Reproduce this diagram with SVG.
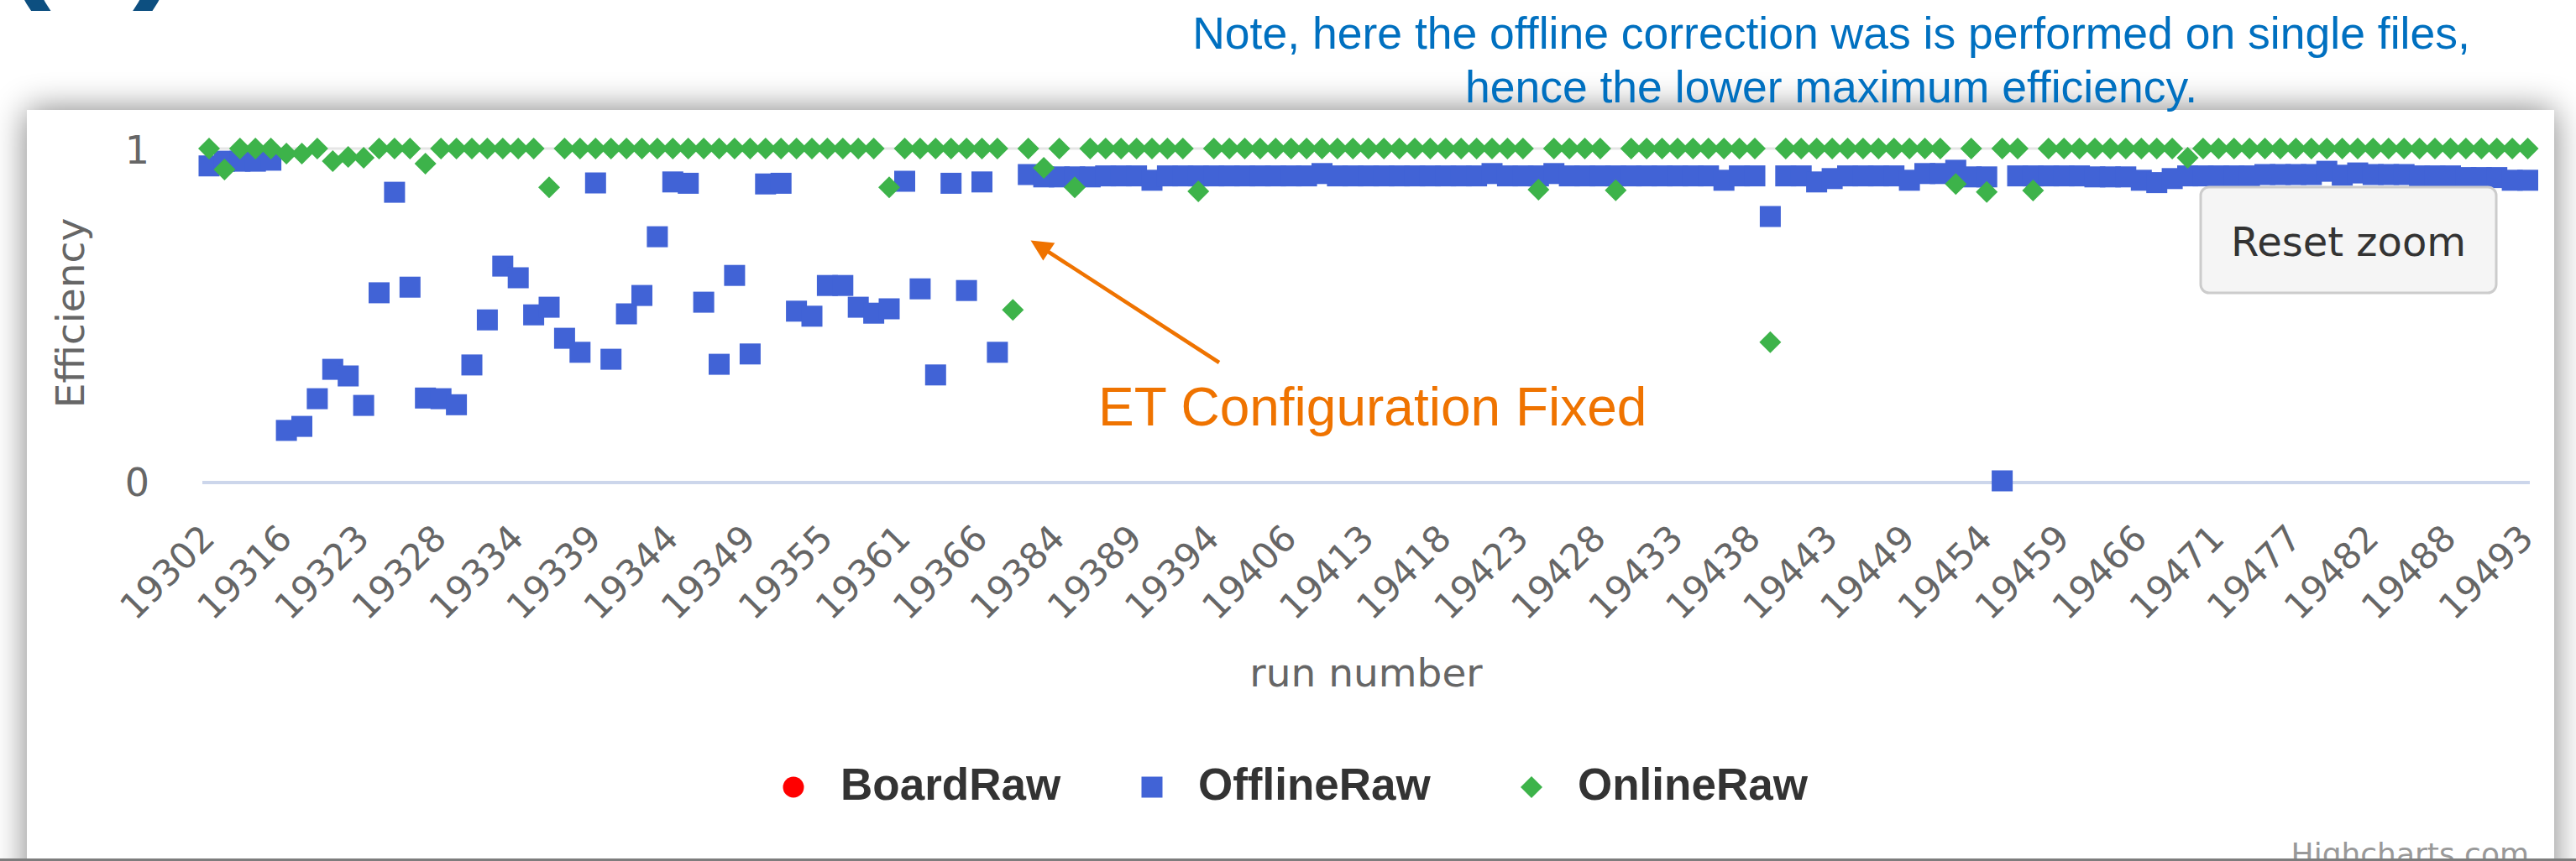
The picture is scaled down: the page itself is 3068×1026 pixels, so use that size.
<svg xmlns="http://www.w3.org/2000/svg" xmlns:xlink="http://www.w3.org/1999/xlink" width="3068" height="1026" viewBox="0 0 3068 1026">
  <defs>
    <style>
      .note{font-family:"Liberation Sans",Arial,sans-serif;font-size:53.5px;fill:#0070c0;text-anchor:middle}
      .paren{font-family:"Liberation Sans",Arial,sans-serif;font-weight:bold;font-size:170px;fill:#0d4f80}
      .tick{font-family:"DejaVu Sans",Verdana,sans-serif;font-size:43px;fill:#666666;text-anchor:end}
      .ylab{font-family:"DejaVu Sans",Verdana,sans-serif;font-size:46px;fill:#666666;text-anchor:end}
      .axtitle{font-family:"DejaVu Sans",Verdana,sans-serif;font-size:47px;fill:#666666;text-anchor:middle}
      .leg{font-family:"Liberation Sans",Arial,sans-serif;font-weight:bold;font-size:53px;fill:#333333}
      .btn{font-family:"DejaVu Sans",Verdana,sans-serif;font-size:48px;fill:#333333;text-anchor:middle}
      .credit{font-family:"DejaVu Sans",Verdana,sans-serif;font-size:36px;fill:#999999;text-anchor:end}
      .ann{font-family:"Liberation Sans",Arial,sans-serif;font-size:64px;fill:#ef7300}
      .off{fill:#4163d6}
      .on{fill:#3db34a}
    </style>
    <filter id="shadow" x="-10%" y="-20%" width="120%" height="140%">
      <feGaussianBlur stdDeviation="20"/>
    </filter>
    <clipPath id="panelClip">
      <rect x="32" y="131" width="3010" height="892"/>
    </clipPath>
    <rect id="sq" x="-12.5" y="-12.5" width="25" height="25"/>
    <path id="dm" d="M0,-13L13,0L0,13L-13,0Z"/>
  </defs>

  <!-- page background -->
  <rect x="0" y="0" width="3068" height="1026" fill="#ffffff"/>

  <!-- heading fragments -->
  <g id="heading">
    <text class="paren" x="4" y="-22">(</text>
    <text class="paren" x="158" y="-22">)</text>
  </g>

  <!-- chart panel with drop shadow -->
  <g id="panel">
    <rect x="32" y="131" width="3010" height="960" fill="#000000" opacity="0.5" filter="url(#shadow)"/>
    <rect x="32" y="131" width="3010" height="960" fill="#ffffff"/>
  </g>
  <rect x="0" y="1023" width="3068" height="3" fill="#7d7d7d"/>

  <!-- side note -->
  <g id="note">
    <text class="note" x="2181" y="58">Note, here the offline correction was is performed on single files,</text>
    <text class="note" x="2181" y="122">hence the lower maximum efficiency.</text>
  </g>

  <g id="chart" clip-path="url(#panelClip)">
    <!-- grid and axis -->
    <g id="axes">
      <line x1="241" y1="177" x2="3013" y2="177" stroke="#e6e6e6" stroke-width="3"/>
      <line x1="241" y1="575" x2="3013" y2="575" stroke="#ccd6eb" stroke-width="4"/>
      <text class="ylab" x="178" y="195">1</text>
      <text class="ylab" x="178" y="591">0</text>
      <text class="axtitle" transform="translate(100,373) rotate(-90)">Efficiency</text>
      <text class="axtitle" x="1627" y="818">run number</text>
    </g>

    <!-- category labels -->
    <g id="xlabels">
      <text class="tick" transform="translate(258.0,644) rotate(-45)">19302</text>
      <text class="tick" transform="translate(350.1,644) rotate(-45)">19316</text>
      <text class="tick" transform="translate(442.1,644) rotate(-45)">19323</text>
      <text class="tick" transform="translate(534.2,644) rotate(-45)">19328</text>
      <text class="tick" transform="translate(626.2,644) rotate(-45)">19334</text>
      <text class="tick" transform="translate(718.3,644) rotate(-45)">19339</text>
      <text class="tick" transform="translate(810.3,644) rotate(-45)">19344</text>
      <text class="tick" transform="translate(902.4,644) rotate(-45)">19349</text>
      <text class="tick" transform="translate(994.4,644) rotate(-45)">19355</text>
      <text class="tick" transform="translate(1086.5,644) rotate(-45)">19361</text>
      <text class="tick" transform="translate(1178.5,644) rotate(-45)">19366</text>
      <text class="tick" transform="translate(1270.6,644) rotate(-45)">19384</text>
      <text class="tick" transform="translate(1362.6,644) rotate(-45)">19389</text>
      <text class="tick" transform="translate(1454.7,644) rotate(-45)">19394</text>
      <text class="tick" transform="translate(1546.7,644) rotate(-45)">19406</text>
      <text class="tick" transform="translate(1638.8,644) rotate(-45)">19413</text>
      <text class="tick" transform="translate(1730.8,644) rotate(-45)">19418</text>
      <text class="tick" transform="translate(1822.9,644) rotate(-45)">19423</text>
      <text class="tick" transform="translate(1914.9,644) rotate(-45)">19428</text>
      <text class="tick" transform="translate(2007.0,644) rotate(-45)">19433</text>
      <text class="tick" transform="translate(2099.0,644) rotate(-45)">19438</text>
      <text class="tick" transform="translate(2191.1,644) rotate(-45)">19443</text>
      <text class="tick" transform="translate(2283.1,644) rotate(-45)">19449</text>
      <text class="tick" transform="translate(2375.2,644) rotate(-45)">19454</text>
      <text class="tick" transform="translate(2467.2,644) rotate(-45)">19459</text>
      <text class="tick" transform="translate(2559.3,644) rotate(-45)">19466</text>
      <text class="tick" transform="translate(2651.3,644) rotate(-45)">19471</text>
      <text class="tick" transform="translate(2743.4,644) rotate(-45)">19477</text>
      <text class="tick" transform="translate(2835.4,644) rotate(-45)">19482</text>
      <text class="tick" transform="translate(2927.5,644) rotate(-45)">19488</text>
      <text class="tick" transform="translate(3019.5,644) rotate(-45)">19493</text>
    </g>

    <!-- OfflineRaw series -->
    <g id="series-offline" class="off">
      <use href="#sq" x="249.0" y="197.7"/><use href="#sq" x="267.4" y="192.1"/><use href="#sq" x="285.8" y="192.1"/><use href="#sq" x="304.2" y="192.1"/><use href="#sq" x="322.6" y="190.9"/>
      <use href="#sq" x="341.1" y="512.9"/><use href="#sq" x="359.5" y="508.1"/><use href="#sq" x="377.9" y="475.1"/><use href="#sq" x="396.3" y="440.1"/><use href="#sq" x="414.7" y="448.0"/>
      <use href="#sq" x="433.1" y="483.1"/><use href="#sq" x="451.5" y="348.9"/><use href="#sq" x="469.9" y="229.1"/><use href="#sq" x="488.3" y="342.2"/><use href="#sq" x="506.7" y="474.3"/>
      <use href="#sq" x="525.2" y="475.1"/><use href="#sq" x="543.6" y="482.3"/><use href="#sq" x="562.0" y="434.9"/><use href="#sq" x="580.4" y="381.2"/><use href="#sq" x="598.8" y="317.1"/>
      <use href="#sq" x="617.2" y="331.0"/><use href="#sq" x="635.6" y="375.2"/><use href="#sq" x="654.0" y="366.1"/><use href="#sq" x="672.4" y="403.1"/><use href="#sq" x="690.8" y="419.8"/>
      <use href="#sq" x="709.3" y="218.0"/><use href="#sq" x="727.7" y="428.1"/><use href="#sq" x="746.1" y="374.0"/><use href="#sq" x="764.5" y="352.1"/><use href="#sq" x="782.9" y="282.1"/>
      <use href="#sq" x="801.3" y="216.8"/><use href="#sq" x="819.7" y="218.4"/><use href="#sq" x="838.1" y="360.1"/><use href="#sq" x="856.5" y="434.1"/><use href="#sq" x="874.9" y="328.2"/>
      <use href="#sq" x="893.4" y="421.8"/><use href="#sq" x="911.8" y="219.2"/><use href="#sq" x="930.2" y="218.4"/><use href="#sq" x="948.6" y="370.8"/><use href="#sq" x="967.0" y="376.8"/>
      <use href="#sq" x="985.4" y="340.2"/><use href="#sq" x="1003.8" y="340.2"/><use href="#sq" x="1022.2" y="366.1"/><use href="#sq" x="1040.6" y="373.2"/><use href="#sq" x="1059.0" y="368.0"/>
      <use href="#sq" x="1077.5" y="216.0"/><use href="#sq" x="1095.9" y="344.2"/><use href="#sq" x="1114.3" y="446.8"/><use href="#sq" x="1132.7" y="218.4"/><use href="#sq" x="1151.1" y="346.2"/>
      <use href="#sq" x="1169.5" y="216.8"/><use href="#sq" x="1187.9" y="419.8"/>
      <use href="#sq" x="1224.7" y="208.0"/><use href="#sq" x="1243.1" y="210.8"/><use href="#sq" x="1261.6" y="210.8"/><use href="#sq" x="1280.0" y="210.8"/><use href="#sq" x="1298.4" y="210.8"/>
      <use href="#sq" x="1316.8" y="209.6"/><use href="#sq" x="1335.2" y="209.6"/><use href="#sq" x="1353.6" y="209.6"/><use href="#sq" x="1372.0" y="214.8"/><use href="#sq" x="1390.4" y="209.6"/>
      <use href="#sq" x="1408.8" y="209.6"/><use href="#sq" x="1427.2" y="209.6"/><use href="#sq" x="1445.7" y="209.6"/><use href="#sq" x="1464.1" y="209.6"/><use href="#sq" x="1482.5" y="209.6"/>
      <use href="#sq" x="1500.9" y="209.6"/><use href="#sq" x="1519.3" y="209.6"/><use href="#sq" x="1537.7" y="209.6"/><use href="#sq" x="1556.1" y="209.6"/><use href="#sq" x="1574.5" y="206.8"/>
      <use href="#sq" x="1592.9" y="209.6"/><use href="#sq" x="1611.3" y="209.6"/><use href="#sq" x="1629.8" y="209.6"/><use href="#sq" x="1648.2" y="209.6"/><use href="#sq" x="1666.6" y="209.6"/>
      <use href="#sq" x="1685.0" y="209.6"/><use href="#sq" x="1703.4" y="209.6"/><use href="#sq" x="1721.8" y="209.6"/><use href="#sq" x="1740.2" y="209.6"/><use href="#sq" x="1758.6" y="209.6"/>
      <use href="#sq" x="1777.0" y="206.8"/><use href="#sq" x="1795.4" y="209.6"/><use href="#sq" x="1813.9" y="209.6"/><use href="#sq" x="1832.3" y="209.6"/><use href="#sq" x="1850.7" y="206.8"/>
      <use href="#sq" x="1869.1" y="209.6"/><use href="#sq" x="1887.5" y="209.6"/><use href="#sq" x="1905.9" y="209.6"/><use href="#sq" x="1924.3" y="209.6"/><use href="#sq" x="1942.7" y="209.6"/>
      <use href="#sq" x="1961.1" y="209.6"/><use href="#sq" x="1979.5" y="209.6"/><use href="#sq" x="1998.0" y="209.6"/><use href="#sq" x="2016.4" y="209.6"/><use href="#sq" x="2034.8" y="209.6"/>
      <use href="#sq" x="2053.2" y="214.8"/><use href="#sq" x="2071.6" y="209.6"/><use href="#sq" x="2090.0" y="209.6"/><use href="#sq" x="2108.4" y="258.0"/><use href="#sq" x="2126.8" y="209.6"/>
      <use href="#sq" x="2145.2" y="209.6"/><use href="#sq" x="2163.6" y="216.8"/><use href="#sq" x="2182.1" y="212.8"/><use href="#sq" x="2200.5" y="209.6"/><use href="#sq" x="2218.9" y="209.6"/>
      <use href="#sq" x="2237.3" y="209.6"/><use href="#sq" x="2255.7" y="209.6"/><use href="#sq" x="2274.1" y="214.8"/><use href="#sq" x="2292.5" y="206.8"/><use href="#sq" x="2310.9" y="206.8"/>
      <use href="#sq" x="2329.3" y="202.9"/><use href="#sq" x="2347.7" y="210.8"/><use href="#sq" x="2366.2" y="210.8"/><use href="#sq" x="2384.6" y="573.0"/><use href="#sq" x="2403.0" y="209.6"/>
      <use href="#sq" x="2421.4" y="209.6"/><use href="#sq" x="2439.8" y="209.6"/><use href="#sq" x="2458.2" y="209.6"/><use href="#sq" x="2476.6" y="209.6"/><use href="#sq" x="2495.0" y="210.8"/>
      <use href="#sq" x="2513.4" y="210.8"/><use href="#sq" x="2531.8" y="210.8"/><use href="#sq" x="2550.3" y="214.8"/><use href="#sq" x="2568.7" y="217.6"/><use href="#sq" x="2587.1" y="212.8"/>
      <use href="#sq" x="2605.5" y="209.6"/><use href="#sq" x="2623.9" y="209.6"/><use href="#sq" x="2642.3" y="209.6"/><use href="#sq" x="2660.7" y="209.6"/><use href="#sq" x="2679.1" y="209.6"/>
      <use href="#sq" x="2697.5" y="208.0"/><use href="#sq" x="2715.9" y="208.0"/><use href="#sq" x="2734.4" y="208.0"/><use href="#sq" x="2752.8" y="208.0"/><use href="#sq" x="2771.2" y="204.1"/>
      <use href="#sq" x="2789.6" y="208.8"/><use href="#sq" x="2808.0" y="206.1"/><use href="#sq" x="2826.4" y="208.0"/><use href="#sq" x="2844.8" y="208.0"/><use href="#sq" x="2863.2" y="208.0"/>
      <use href="#sq" x="2881.6" y="209.6"/><use href="#sq" x="2900.0" y="209.6"/><use href="#sq" x="2918.5" y="209.6"/><use href="#sq" x="2936.9" y="211.6"/><use href="#sq" x="2955.3" y="211.6"/>
      <use href="#sq" x="2973.7" y="211.6"/><use href="#sq" x="2992.1" y="214.8"/><use href="#sq" x="3010.5" y="214.8"/>
    </g>

    <!-- OnlineRaw series -->
    <g id="series-online" class="on">
      <use href="#dm" x="249.0" y="177"/><use href="#dm" x="267.4" y="202.1"/><use href="#dm" x="285.8" y="177"/><use href="#dm" x="304.2" y="177"/><use href="#dm" x="322.6" y="177"/>
      <use href="#dm" x="341.1" y="183"/><use href="#dm" x="359.5" y="183"/><use href="#dm" x="377.9" y="177"/><use href="#dm" x="396.3" y="192.1"/><use href="#dm" x="414.7" y="186.9"/>
      <use href="#dm" x="433.1" y="188.1"/><use href="#dm" x="451.5" y="177"/><use href="#dm" x="469.9" y="177"/><use href="#dm" x="488.3" y="177"/><use href="#dm" x="506.7" y="194.9"/>
      <use href="#dm" x="525.2" y="177"/><use href="#dm" x="543.6" y="177"/><use href="#dm" x="562.0" y="177"/><use href="#dm" x="580.4" y="177"/><use href="#dm" x="598.8" y="177"/>
      <use href="#dm" x="617.2" y="177"/><use href="#dm" x="635.6" y="177"/><use href="#dm" x="654.0" y="223.2"/><use href="#dm" x="672.4" y="177"/><use href="#dm" x="690.8" y="177"/>
      <use href="#dm" x="709.3" y="177"/><use href="#dm" x="727.7" y="177"/><use href="#dm" x="746.1" y="177"/><use href="#dm" x="764.5" y="177"/><use href="#dm" x="782.9" y="177"/>
      <use href="#dm" x="801.3" y="177"/><use href="#dm" x="819.7" y="177"/><use href="#dm" x="838.1" y="177"/><use href="#dm" x="856.5" y="177"/><use href="#dm" x="874.9" y="177"/>
      <use href="#dm" x="893.4" y="177"/><use href="#dm" x="911.8" y="177"/><use href="#dm" x="930.2" y="177"/><use href="#dm" x="948.6" y="177"/><use href="#dm" x="967.0" y="177"/>
      <use href="#dm" x="985.4" y="177"/><use href="#dm" x="1003.8" y="177"/><use href="#dm" x="1022.2" y="177"/><use href="#dm" x="1040.6" y="177"/><use href="#dm" x="1059.0" y="223.2"/>
      <use href="#dm" x="1077.5" y="177"/><use href="#dm" x="1095.9" y="177"/><use href="#dm" x="1114.3" y="177"/><use href="#dm" x="1132.7" y="177"/><use href="#dm" x="1151.1" y="177"/>
      <use href="#dm" x="1169.5" y="177"/><use href="#dm" x="1187.9" y="177"/><use href="#dm" x="1206.3" y="369.2"/><use href="#dm" x="1224.7" y="177"/><use href="#dm" x="1243.1" y="200.1"/>
      <use href="#dm" x="1261.6" y="177"/><use href="#dm" x="1280.0" y="223.2"/><use href="#dm" x="1298.4" y="177"/><use href="#dm" x="1316.8" y="177"/><use href="#dm" x="1335.2" y="177"/>
      <use href="#dm" x="1353.6" y="177"/><use href="#dm" x="1372.0" y="177"/><use href="#dm" x="1390.4" y="177"/><use href="#dm" x="1408.8" y="177"/><use href="#dm" x="1427.2" y="228"/>
      <use href="#dm" x="1445.7" y="177"/><use href="#dm" x="1464.1" y="177"/><use href="#dm" x="1482.5" y="177"/><use href="#dm" x="1500.9" y="177"/><use href="#dm" x="1519.3" y="177"/>
      <use href="#dm" x="1537.7" y="177"/><use href="#dm" x="1556.1" y="177"/><use href="#dm" x="1574.5" y="177"/><use href="#dm" x="1592.9" y="177"/><use href="#dm" x="1611.3" y="177"/>
      <use href="#dm" x="1629.8" y="177"/><use href="#dm" x="1648.2" y="177"/><use href="#dm" x="1666.6" y="177"/><use href="#dm" x="1685.0" y="177"/><use href="#dm" x="1703.4" y="177"/>
      <use href="#dm" x="1721.8" y="177"/><use href="#dm" x="1740.2" y="177"/><use href="#dm" x="1758.6" y="177"/><use href="#dm" x="1777.0" y="177"/><use href="#dm" x="1795.4" y="177"/>
      <use href="#dm" x="1813.9" y="177"/><use href="#dm" x="1832.3" y="226"/><use href="#dm" x="1850.7" y="177"/><use href="#dm" x="1869.1" y="177"/><use href="#dm" x="1887.5" y="177"/>
      <use href="#dm" x="1905.9" y="177"/><use href="#dm" x="1924.3" y="226.8"/><use href="#dm" x="1942.7" y="177"/><use href="#dm" x="1961.1" y="177"/><use href="#dm" x="1979.5" y="177"/>
      <use href="#dm" x="1998.0" y="177"/><use href="#dm" x="2016.4" y="177"/><use href="#dm" x="2034.8" y="177"/><use href="#dm" x="2053.2" y="177"/><use href="#dm" x="2071.6" y="177"/>
      <use href="#dm" x="2090.0" y="177"/><use href="#dm" x="2108.4" y="407.8"/><use href="#dm" x="2126.8" y="177"/><use href="#dm" x="2145.2" y="177"/><use href="#dm" x="2163.6" y="177"/>
      <use href="#dm" x="2182.1" y="177"/><use href="#dm" x="2200.5" y="177"/><use href="#dm" x="2218.9" y="177"/><use href="#dm" x="2237.3" y="177"/><use href="#dm" x="2255.7" y="177"/>
      <use href="#dm" x="2274.1" y="177"/><use href="#dm" x="2292.5" y="177"/><use href="#dm" x="2310.9" y="177"/><use href="#dm" x="2329.3" y="219.2"/><use href="#dm" x="2347.7" y="177"/>
      <use href="#dm" x="2366.2" y="228.7"/><use href="#dm" x="2384.6" y="177"/><use href="#dm" x="2403.0" y="177"/><use href="#dm" x="2421.4" y="227.1"/><use href="#dm" x="2439.8" y="177"/>
      <use href="#dm" x="2458.2" y="177"/><use href="#dm" x="2476.6" y="177"/><use href="#dm" x="2495.0" y="177"/><use href="#dm" x="2513.4" y="177"/><use href="#dm" x="2531.8" y="177"/>
      <use href="#dm" x="2550.3" y="177"/><use href="#dm" x="2568.7" y="177"/><use href="#dm" x="2587.1" y="177"/><use href="#dm" x="2605.5" y="188.1"/><use href="#dm" x="2623.9" y="177"/>
      <use href="#dm" x="2642.3" y="177"/><use href="#dm" x="2660.7" y="177"/><use href="#dm" x="2679.1" y="177"/><use href="#dm" x="2697.5" y="177"/><use href="#dm" x="2715.9" y="177"/>
      <use href="#dm" x="2734.4" y="177"/><use href="#dm" x="2752.8" y="177"/><use href="#dm" x="2771.2" y="177"/><use href="#dm" x="2789.6" y="177"/><use href="#dm" x="2808.0" y="177"/>
      <use href="#dm" x="2826.4" y="177"/><use href="#dm" x="2844.8" y="177"/><use href="#dm" x="2863.2" y="177"/><use href="#dm" x="2881.6" y="177"/><use href="#dm" x="2900.0" y="177"/>
      <use href="#dm" x="2918.5" y="177"/><use href="#dm" x="2936.9" y="177"/><use href="#dm" x="2955.3" y="177"/><use href="#dm" x="2973.7" y="177"/><use href="#dm" x="2992.1" y="177"/>
      <use href="#dm" x="3010.5" y="177"/>
    </g>

    <!-- reset zoom button -->
    <g id="reset-zoom">
      <rect x="2621" y="223" width="352" height="126" rx="10" fill="#f5f5f5" stroke="#cccccc" stroke-width="3"/>
      <text class="btn" x="2797" y="305">Reset zoom</text>
    </g>

    <!-- legend -->
    <g id="legend">
      <circle cx="945" cy="938" r="12.5" fill="#ff0000"/>
      <text class="leg" x="1001" y="953">BoardRaw</text>
      <use href="#sq" x="1372" y="938" class="off"/>
      <text class="leg" x="1427" y="953">OfflineRaw</text>
      <use href="#dm" x="1824" y="938" class="on"/>
      <text class="leg" x="1879" y="953">OnlineRaw</text>
    </g>

    <text class="credit" x="3012" y="1030">Highcharts.com</text>
  </g>

  <!-- annotation -->
  <g id="annotation">
    <line x1="1452" y1="432" x2="1247" y2="299" stroke="#ef7300" stroke-width="4.5"/>
    <polygon points="1227.5,286.5 1242.4,310.5 1256.3,289.5" fill="#ef7300"/>
    <text class="ann" x="1308" y="507">ET Configuration Fixed</text>
  </g>
</svg>
